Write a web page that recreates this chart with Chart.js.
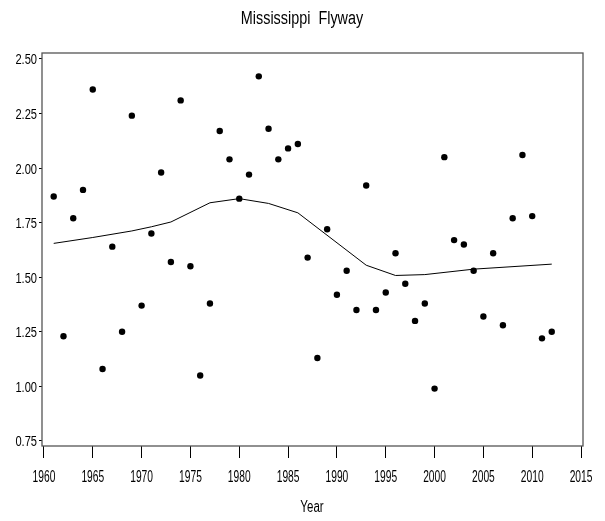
<!DOCTYPE html>
<html>

<head>
    <meta charset="utf-8">
    <title>Mississippi Flyway</title>
    <script src="https://cdn.jsdelivr.net/npm/chart.js@4.4.1/dist/chart.umd.min.js"></script>
    <style>
        body { margin: 0; background: #fff; }
    </style>
</head>

<body>
    <canvas id="myChart" width="605" height="521"></canvas>
    <script>
        const years = [1961, 1962, 1963, 1964, 1965, 1966, 1967, 1968, 1969, 1970,
            1971, 1972, 1973, 1974, 1975, 1976, 1977, 1978, 1979, 1980,
            1981, 1982, 1983, 1984, 1985, 1986, 1987, 1988, 1989, 1990,
            1991, 1992, 1993, 1994, 1995, 1996, 1997, 1998, 1999, 2000,
            2001, 2002, 2003, 2004, 2005, 2006, 2007, 2008, 2009, 2010,
            2011, 2012];
        const values = [1.87, 1.23, 1.77, 1.90, 2.36, 1.08, 1.64, 1.25, 2.24, 1.37,
            1.70, 1.98, 1.57, 2.31, 1.55, 1.05, 1.38, 2.17, 2.04, 1.86,
            1.97, 2.42, 2.18, 2.04, 2.09, 2.11, 1.59, 1.13, 1.72, 1.42,
            1.53, 1.35, 1.92, 1.35, 1.43, 1.61, 1.47, 1.30, 1.38, 0.99,
            2.05, 1.67, 1.65, 1.53, 1.32, 1.61, 1.28, 1.77, 2.06, 1.78,
            1.22, 1.25];

        // smoothed trend
        const trendYears = [1961, 1965, 1969, 1971, 1973, 1977, 1980, 1983, 1986, 1993, 1996, 1999, 2004, 2012];
        const trendValues = [1.655, 1.682, 1.712, 1.731, 1.753, 1.841, 1.860, 1.838, 1.795, 1.555, 1.508, 1.512, 1.537, 1.560];

        const xTicks = [1960, 1965, 1970, 1975, 1980, 1985, 1990, 1995, 2000, 2005, 2010, 2015];
        const yTicks = [0.75, 1.00, 1.25, 1.50, 1.75, 2.00, 2.25, 2.50];

        const FONT = '"Liberation Sans", Arial, sans-serif';

        // squeezed text, the labels use a narrow face
        function narrowText(ctx, text, x, y, size, sx, align) {
            ctx.save();
            ctx.font = size + 'px ' + FONT;
            ctx.textAlign = align;
            ctx.textBaseline = 'alphabetic';
            ctx.translate(x, y);
            ctx.scale(sx, 1);
            ctx.fillText(text, 0, 0);
            ctx.restore();
        }

        // box round the plot, tick labels and titles
        const frame = {
            id: 'frame',
            afterDraw(chart) {
                const {ctx, chartArea: a, scales} = chart;
                ctx.save();
                ctx.strokeStyle = '#555';
                ctx.lineWidth = 1.3;
                ctx.strokeRect(a.left, a.top, a.right - a.left, a.bottom - a.top);
                ctx.fillStyle = '#000';
                scales.x.ticks.forEach(t => {
                    narrowText(ctx, String(t.value), scales.x.getPixelForValue(t.value), 482, 16, 0.64, 'center');
                });
                scales.y.ticks.forEach(t => {
                    narrowText(ctx, t.value.toFixed(2), 37, scales.y.getPixelForValue(t.value) + 5.5, 15, 0.74, 'right');
                });
                narrowText(ctx, 'Mississippi  Flyway', 302, 24, 18, 0.8, 'center');
                narrowText(ctx, 'Year', 312, 512, 16, 0.72, 'center');
                ctx.restore();
            }
        };

        const ctx = document.getElementById('myChart').getContext('2d');
        new Chart(ctx, {
            type: 'scatter',
            data: {
                datasets: [{
                    data: years.map((y, i) => ({x: y, y: values[i]})),
                    backgroundColor: '#000',
                    borderColor: '#000',
                    pointRadius: 3.2,
                    pointBorderWidth: 0,
                    order: 1
                }, {
                    type: 'line',
                    data: trendYears.map((y, i) => ({x: y, y: trendValues[i]})),
                    borderColor: '#000',
                    borderWidth: 1,
                    pointRadius: 0,
                    fill: false,
                    tension: 0,
                    order: 2
                }]
            },
            options: {
                responsive: false,
                animation: false,
                layout: { padding: { top: 53, right: 22, bottom: 0, left: 0 } },
                plugins: { legend: { display: false }, tooltip: { enabled: false } },
                scales: {
                    x: {
                        type: 'linear',
                        min: 1959.8,
                        max: 2015.2,
                        afterBuildTicks: s => { s.ticks = xTicks.map(v => ({value: v})); },
                        afterFit: s => { s.height = 75; },
                        border: { display: false },
                        grid: { drawOnChartArea: false, tickLength: 12, color: '#000', tickWidth: 1 },
                        ticks: { display: false }
                    },
                    y: {
                        min: 0.727,
                        max: 2.527,
                        afterBuildTicks: s => { s.ticks = yTicks.map(v => ({value: v})); },
                        afterFit: s => { s.width = 42; },
                        border: { display: false },
                        grid: { drawOnChartArea: false, tickLength: 3, color: '#000', tickWidth: 1 },
                        ticks: { display: false }
                    }
                }
            },
            plugins: [frame]
        });
    </script>
</body>

</html>
